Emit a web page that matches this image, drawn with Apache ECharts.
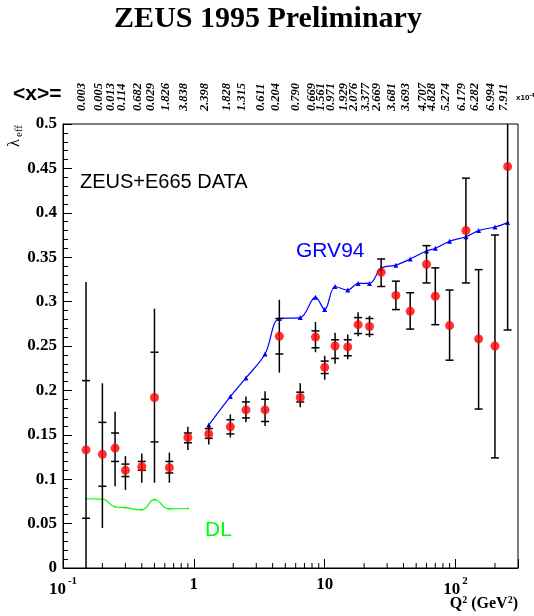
<!DOCTYPE html>
<html>
<head>
<meta charset="utf-8">
<script src="https://cdn.jsdelivr.net/npm/echarts@6/dist/echarts.min.js"></script>
<style>
  html, body { margin: 0; padding: 0; background: #fff; }
  #chart { width: 534px; height: 616px; }
</style>
</head>
<body>
<div id="chart"></div>
<script>
// Q^2 bins (GeV^2) and effective slope lambda_eff
const q2 = [0.15, 0.2, 0.25, 0.3, 0.4, 0.5, 0.65, 0.9, 1.3, 1.9, 2.5, 3.5, 4.5, 6.5, 8.5,
            10, 12, 15, 18, 22, 27, 35, 45, 60, 70, 90, 120, 150, 200, 250];
const lambdaEff = [0.133, 0.128, 0.135, 0.110, 0.114, 0.192, 0.113, 0.147, 0.151, 0.159,
                   0.178, 0.178, 0.261, 0.192, 0.260, 0.226, 0.250, 0.249, 0.274, 0.272,
                   0.333, 0.307, 0.289, 0.342, 0.306, 0.273, 0.380, 0.258, 0.250, 0.452];
// statistical error band edges (capped)
const statLo = [0.056, 0.092, 0.120, 0.103, 0.110, 0.142, 0.107, 0.141, 0.146, 0.151,
                0.169, 0.165, 0.241, 0.187, 0.248, 0.219, 0.236, 0.239, 0.264, 0.263,
                0.317, 0.291, 0.269, 0.321, 0.274, 0.234, 0.321, 0.179, 0.124, 0.268];
const statHi = [0.211, 0.164, 0.152, 0.117, 0.120, 0.243, 0.120, 0.152, 0.157, 0.167,
                0.187, 0.190, 0.281, 0.198, 0.267, 0.233, 0.257, 0.257, 0.282, 0.281,
                0.348, 0.323, 0.310, 0.363, 0.338, 0.313, 0.439, 0.336, 0.375, 0.520];
// total error band edges
const totLo = [-0.050, 0.045, 0.092, 0.088, 0.096, 0.096, 0.096, 0.133, 0.139, 0.147,
               0.164, 0.160, 0.220, 0.181, 0.243, 0.212, 0.230, 0.235, 0.261, 0.260,
               0.317, 0.291, 0.269, 0.321, 0.274, 0.234, 0.321, 0.179, 0.124, 0.268];
const totHi = [0.322, 0.208, 0.176, 0.126, 0.129, 0.292, 0.130, 0.159, 0.161, 0.173,
               0.193, 0.199, 0.302, 0.208, 0.277, 0.239, 0.265, 0.263, 0.288, 0.284,
               0.348, 0.323, 0.310, 0.363, 0.338, 0.313, 0.439, 0.336, 0.375, 0.520];
// mean Bjorken x per bin, in units of 1e-4
const xMean = ['0.003', '0.005', '0.013', '0.114', '0.682', '0.029', '1.826', '3.838', '2.398', '1.828',
               '1.315', '0.611', '0.204', '0.790', '0.669', '1.561', '0.971', '1.929', '2.076', '3.377',
               '2.669', '3.681', '3.693', '4.707', '4.828', '5.274', '6.179', '6.282', '6.994', '7.911'];
// GRV94 prediction (from the 9th bin on) and DL prediction (first 8 bins)
const grvStart = 8;
const grv94 = [0.161, 0.193, 0.214, 0.241, 0.281, 0.282, 0.305, 0.291, 0.317, 0.313, 0.3205,
               0.3205, 0.3375, 0.341, 0.348, 0.357, 0.360, 0.368, 0.373, 0.380, 0.384, 0.389];
const dl = [0.078, 0.0775, 0.069, 0.068, 0.0655, 0.077, 0.0665, 0.067];

// axis ticks
const xTickValues = [0.1, 1, 10, 100];
const xTickBase = ['10', '1', '10', '10'];
const xTickExp = ['-1', '', '', '2'];
const xMinorTicks = [0.2, 0.3, 0.4, 0.5, 0.6, 0.7, 0.8, 0.9, 2, 3, 4, 5, 6, 7, 8, 9,
                     20, 30, 40, 50, 60, 70, 80, 90, 200];

const SERIF = '"Liberation Serif", "Times New Roman", serif';
const SANS = '"Liberation Sans", Arial, sans-serif';

const chart = echarts.init(document.getElementById('chart'), null, { renderer: 'canvas' });

function xLabel(v) {
  for (let i = 0; i < xTickValues.length; i++) {
    if (Math.abs(Math.log10(v) - Math.log10(xTickValues[i])) < 1e-6) {
      return xTickExp[i] ? '{b|' + xTickBase[i] + '}{s|' + xTickExp[i] + '}' : '{b|' + xTickBase[i] + '}';
    }
  }
  return '';
}

const option = {
  animation: false,
  backgroundColor: '#fff',
  grid: { left: 63, right: 16, top: 124, bottom: 48, show: true, borderColor: '#000', borderWidth: 1, backgroundColor: 'transparent' },
  xAxis: {
    type: 'log', logBase: 10, min: 0.1, max: 300,
    axisLine: { show: true, lineStyle: { color: '#000', width: 1 } },
    axisTick: { show: true, inside: true, length: 9, lineStyle: { color: '#000' } },
    splitLine: { show: false },
    minorTick: { show: false },
    axisLabel: {
      margin: 8, color: '#000', formatter: xLabel,
      rich: {
        b: { fontFamily: SERIF, fontWeight: 'bold', fontSize: 17, color: '#000' },
        s: { fontFamily: SERIF, fontWeight: 'bold', fontSize: 11, color: '#000', padding: [0, 0, 17, 2] }
      }
    }
  },
  yAxis: {
    type: 'value', min: 0, max: 0.5, interval: 0.05,
    axisLine: { show: true, lineStyle: { color: '#000', width: 1 } },
    axisTick: { show: true, inside: true, length: 9, lineStyle: { color: '#000' } },
    minorTick: { show: true, splitNumber: 5, length: 5, lineStyle: { color: '#000' } },
    splitLine: { show: false },
    axisLabel: { margin: 6, color: '#000', fontFamily: SERIF, fontWeight: 'bold', fontSize: 17,
      formatter: v => (Math.round(v * 100) / 100).toString() }
  },
  series: [
    {
      // minor log ticks on the Q^2 axis
      type: 'custom', silent: true, clip: false, z: 1,
      data: xMinorTicks.map(v => [v, 0]),
      encode: { x: 0, y: 1 },
      renderItem: (params, api) => {
        const p = api.coord([api.value(0), 0]);
        return { type: 'line', shape: { x1: p[0], y1: p[1], x2: p[0], y2: p[1] - 5 },
                 style: { stroke: '#000', lineWidth: 1 } };
      }
    },
    {
      // <x> values written above each bin
      type: 'custom', silent: true, clip: false, z: 5,
      data: q2.map((q, i) => [q, 0.5, i]),
      encode: { x: 0, y: 1 },
      renderItem: (params, api) => {
        const p = api.coord([api.value(0), 0.5]);
        return { type: 'text', x: p[0] - 4, y: p[1] - 13, rotation: Math.PI / 2,
                 style: { text: xMean[api.value(2)], font: 'italic bold 12.5px ' + SERIF, fill: '#000',
                          align: 'left', verticalAlign: 'middle' } };
      }
    },
    {
      // DL prediction
      type: 'line', smooth: 0.5, symbol: 'circle', symbolSize: 2, showSymbol: true, z: 2,
      data: dl.map((v, i) => [q2[i], v]),
      lineStyle: { color: '#00ff00', width: 1.2 },
      itemStyle: { color: '#00ff00' }
    },
    {
      // GRV94 prediction
      type: 'line', smooth: 0.35, symbol: 'triangle', symbolSize: 5, showSymbol: true, z: 2,
      data: grv94.map((v, i) => [q2[grvStart + i], v]),
      lineStyle: { color: '#0000ff', width: 1.2 },
      itemStyle: { color: '#0000ff' }
    },
    {
      // error bars: total error as bare line, statistical error with caps
      type: 'custom', silent: true, clip: true, z: 3,
      data: q2.map((q, i) => [q, lambdaEff[i], statLo[i], statHi[i], totLo[i], totHi[i]]),
      encode: { x: 0, y: 1 },
      renderItem: (params, api) => {
        const x = api.value(0);
        const lo = Math.min(api.value(2), api.value(4));
        const hi = Math.max(api.value(3), api.value(5));
        const a = api.coord([x, lo]), b = api.coord([x, hi]);
        const s1 = api.coord([x, api.value(2)]), s2 = api.coord([x, api.value(3)]);
        const cx = a[0];
        const st = { stroke: '#000', lineWidth: 1.5 };
        return { type: 'group', children: [
          { type: 'line', shape: { x1: cx, y1: a[1], x2: cx, y2: b[1] }, style: st },
          { type: 'line', shape: { x1: cx - 4, y1: s1[1], x2: cx + 4, y2: s1[1] }, style: st },
          { type: 'line', shape: { x1: cx - 4, y1: s2[1], x2: cx + 4, y2: s2[1] }, style: st }
        ] };
      }
    },
    {
      // ZEUS + E665 measurements
      type: 'scatter', symbol: 'circle', symbolSize: 9, z: 4,
      data: q2.map((q, i) => [q, lambdaEff[i]]),
      itemStyle: { color: '#ff0000' }
    }
  ],
  graphic: [
    { type: 'text', x: 268, y: 4, style: { text: 'ZEUS 1995 Preliminary', font: 'bold 30px ' + SERIF, fill: '#000', align: 'center', verticalAlign: 'top' } },
    { type: 'text', x: 13, y: 94, style: { text: '<x>=', font: 'bold 21px ' + SANS, fill: '#000', align: 'left', verticalAlign: 'middle' } },
    { type: 'text', x: 516, y: 98, style: { text: '{a|x10}{e|-4}', align: 'left', verticalAlign: 'middle',
        rich: { a: { font: 'bold 8px ' + SANS, color: '#000' }, e: { font: 'bold 6px ' + SANS, color: '#000', padding: [0, 0, 6, 0] } } } },
    { type: 'text', x: 15, y: 147, rotation: Math.PI / 2, style: { text: 'λ', font: '16px ' + SERIF, fill: '#000', align: 'left', verticalAlign: 'middle' } },
    { type: 'text', x: 19, y: 137, rotation: Math.PI / 2, style: { text: 'eff', font: '11px ' + SERIF, fill: '#000', align: 'left', verticalAlign: 'middle' } },
    { type: 'text', x: 80, y: 182, style: { text: 'ZEUS+E665 DATA', font: '20px ' + SANS, fill: '#000', align: 'left', verticalAlign: 'middle' } },
    { type: 'text', x: 296, y: 251, style: { text: 'GRV94', font: '21px ' + SANS, fill: '#0000ff', align: 'left', verticalAlign: 'middle' } },
    { type: 'text', x: 205, y: 530, style: { text: 'DL', font: '21px ' + SANS, fill: '#00ff00', align: 'left', verticalAlign: 'middle' } },
    { type: 'text', x: 518, y: 604, style: { text: '{q|Q}{p|2}{q| (GeV}{p|2}{q|)}', align: 'right', verticalAlign: 'middle',
        rich: { q: { font: 'bold 16px ' + SERIF, color: '#000' }, p: { font: 'bold 10px ' + SERIF, color: '#000', padding: [0, 0, 8, 0] } } } }
  ]
};

chart.setOption(option);
</script>
</body>
</html>
